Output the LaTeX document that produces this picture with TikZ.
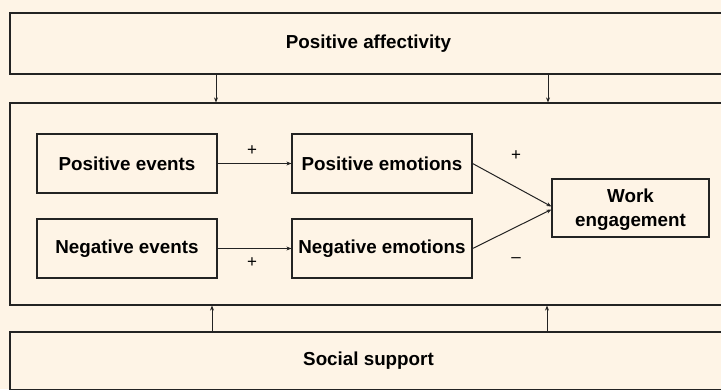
\documentclass[tikz,border=0pt]{standalone}
\usepackage{fontspec}
\setmainfont{Liberation Sans}
\usetikzlibrary{arrows.meta, positioning}
\definecolor{bgcream}{RGB}{254,244,230}
\definecolor{linegray}{RGB}{35,35,35}
\tikzset{
  bigbox/.style={rectangle, draw=linegray, line width=1.2pt, fill=bgcream,
                 inner sep=0pt, minimum width=717pt, minimum height=61pt,
                 font=\fontsize{18.8}{22}\selectfont\bfseries},
  varbox/.style={rectangle, draw=linegray, line width=1.2pt, fill=bgcream,
                 inner sep=0pt, minimum width=180pt, minimum height=59pt,
                 align=center, font=\fontsize{18.8}{24}\selectfont\bfseries},
  sign/.style={inner sep=0pt, font=\fontsize{17}{18}\selectfont},
  arr/.style={line width=1pt, draw=linegray, -{Stealth[length=5pt, width=4pt]}},
}

\begin{document}
\begin{tikzpicture}[x=1pt, y=-1pt]
    \fill[bgcream] (0,0) rectangle (721,389);
    \useasboundingbox (0,0) rectangle (721,389);
    % moderators and frame
    \node[bigbox] (pa) at (368.5,43.5) {Positive affectivity};
    \node[bigbox, minimum height=202pt] (frame) at (368.5,204) {};
    \node[bigbox, minimum height=58pt] (ss) at (368.5,361) {Social support};
    % model
    \node[varbox] (pev) at (127,163.5) {Positive events};
    \node[varbox] (nev) at (127,248.5) {Negative events};
    \node[varbox] (pem) at (382,163.5) {Positive emotions};
    \node[varbox] (nem) at (382,248.5) {Negative emotions};
    \node[varbox, minimum width=157pt, minimum height=58pt, text depth=0pt] (we) at (630.5,208) {Work\\engagement};
    % Arrows
    \draw[arr] (pev) -- (pem);
    \draw[arr] (nev) -- (nem);
    \draw[arr] (pem.east) -- ([yshift=1.5pt]we.west);
    \draw[arr] (nem.east) -- ([yshift=-1.5pt]we.west);
    \draw[arr] (pa.south -| 216,0) -- (frame.north -| 216,0);
    \draw[arr] (pa.south -| 548,0) -- (frame.north -| 548,0);
    \draw[arr] (ss.north -| 212,0) -- (frame.south -| 212,0);
    \draw[arr] (ss.north -| 547,0) -- (frame.south -| 547,0);
    % signs
    \node[sign] (s1) at (252,151) {+};
    \node[sign] (s2) at (252,263) {+};
    \node[sign] (s3) at (516,156) {+};
    \node[sign] (s4) at (516,260) {–};
  \end{tikzpicture}
\end{document}
